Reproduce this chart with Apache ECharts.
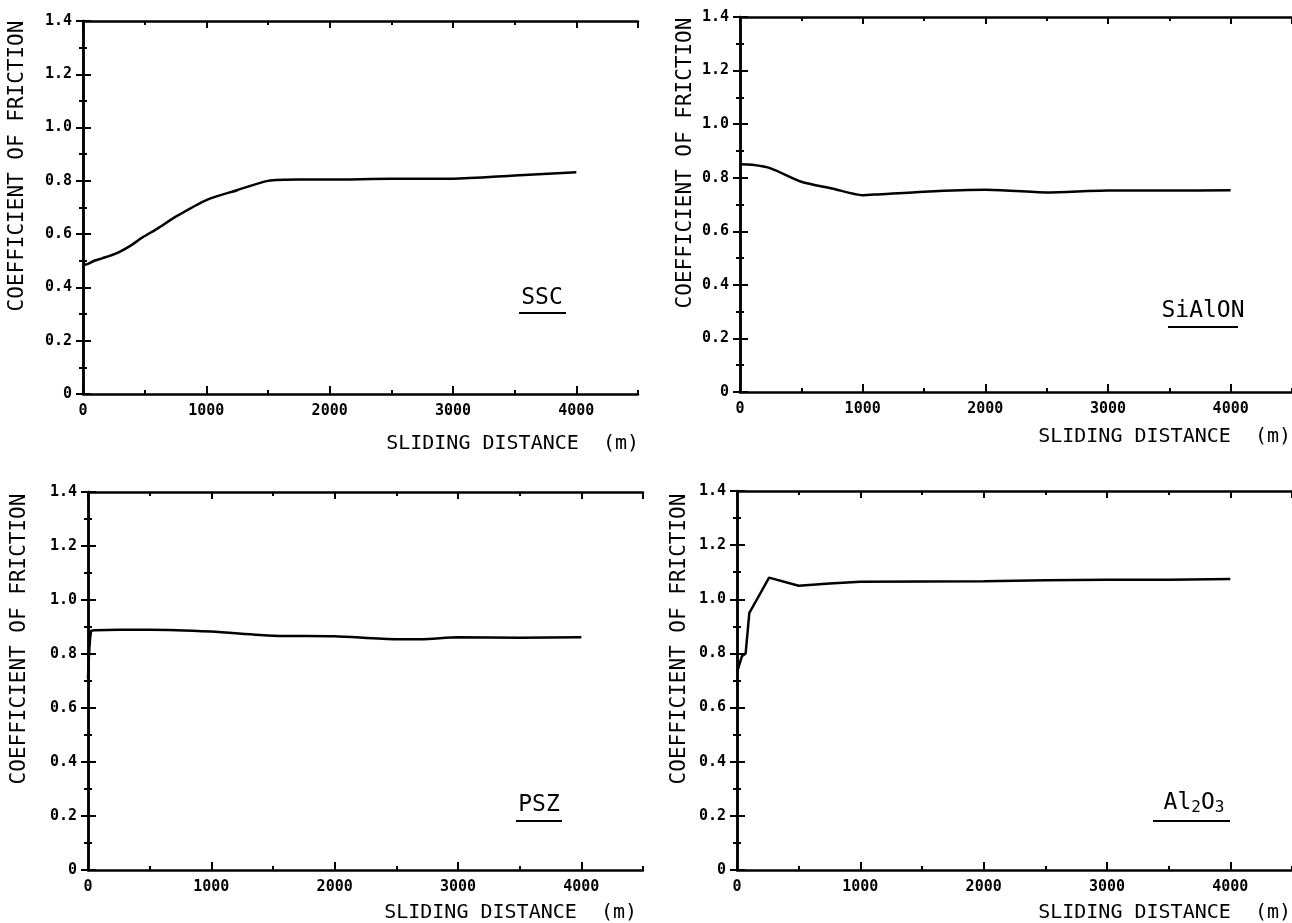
<!DOCTYPE html>
<html>
<head>
<meta charset="utf-8">
<title>Coefficient of friction vs sliding distance</title>
<script src="https://cdn.jsdelivr.net/npm/echarts@6/dist/echarts.min.js"></script>
<style>
  html, body { margin: 0; padding: 0; background: #fff; }
  #chart { width: 1292px; height: 923px; }
</style>
</head>
<body>
<div id="chart"></div>
<script>
// Sliding distance (m) and coefficient of friction for each ceramic
const sscDist   = [0, 15, 50, 90, 160, 280, 380, 490, 600, 750, 1000, 1250, 1500, 1750, 2000, 2500, 3000, 3500, 4000];
const sscCof    = [0.51, 0.485, 0.49, 0.50, 0.51, 0.53, 0.555, 0.59, 0.62, 0.665, 0.728, 0.765, 0.80, 0.805, 0.805, 0.808, 0.808, 0.82, 0.832];

const sialonDist = [0, 100, 250, 500, 750, 1000, 1100, 1500, 2000, 2500, 3000, 3500, 4000];
const sialonCof  = [0.85, 0.848, 0.835, 0.785, 0.76, 0.735, 0.737, 0.748, 0.755, 0.745, 0.752, 0.752, 0.753];

const pszDist = [0, 25, 60, 250, 500, 1000, 1500, 2000, 2500, 2700, 3000, 3500, 4000];
const pszCof  = [0.71, 0.885, 0.888, 0.89, 0.89, 0.883, 0.868, 0.866, 0.855, 0.855, 0.862, 0.86, 0.862];

const aluminaDist = [0, 40, 70, 100, 150, 260, 500, 750, 1000, 1500, 2000, 2500, 3000, 3500, 4000];
const aluminaCof  = [0.73, 0.79, 0.80, 0.95, 0.99, 1.08, 1.05, 1.058, 1.065, 1.066, 1.067, 1.07, 1.072, 1.072, 1.075];

const panelNames = ['SSC', 'SiAlON', 'PSZ', 'Al2O3'];
// rich-text versions of the sample names (subscripts for alumina)
const panelTags = ['SSC', 'SiAlON', 'PSZ', 'Al{sub|2}O{sub|3}'];
const xTitle = 'SLIDING DISTANCE  (m)';
const yTitle = 'COEFFICIENT OF FRICTION';
const xRange = [0, 4500];
const xMajorStep = 1000;
const xMinorStep = 500;
const yRange = [0, 1.4];
const yStep = 0.2;

const panels = [
  { dist: sscDist, cof: sscCof },
  { dist: sialonDist, cof: sialonCof },
  { dist: pszDist, cof: pszCof },
  { dist: aluminaDist, cof: aluminaCof }
];

// Plot frames
const grids = [
  { left: 83,  top: 21,  width: 555, height: 373 },
  { left: 740, top: 17,  width: 557, height: 375 },
  { left: 88,  top: 492, width: 555, height: 378 },
  { left: 737, top: 491, width: 557, height: 379 }
];

// Text placement for each frame
const layout = [
  { yName: [18, 166],  xName: [639, 444],  tag: [542, 298],  line: [519, 566, 313] },
  { yName: [686, 163], xName: [1291, 437], tag: [1203, 311], line: [1168, 1238, 327] },
  { yName: [20, 639],  xName: [637, 913],  tag: [539, 805],  line: [516, 562, 821] },
  { yName: [680, 639], xName: [1291, 913], tag: [1194, 803], line: [1153, 1230, 821] }
];

const INK = '#000';
const MONO = '"DejaVu Sans Mono", "Liberation Mono", monospace';
const axisLineStyle = { color: INK, width: 2.5 };
const tickStyle = { color: INK, width: 2 };

const xAxes = [];
const yAxes = [];
const series = [];
const graphic = [];

panels.forEach((p, i) => {
  const base = xAxes.length;
  const common = { type: 'value', gridIndex: i, min: xRange[0], max: xRange[1], splitLine: { show: false } };
  // bottom axis with labels and long ticks at every 1000 m
  xAxes.push(Object.assign({}, common, {
    position: 'bottom', interval: xMajorStep,
    axisLine: { show: true, lineStyle: axisLineStyle },
    axisTick: { show: true, inside: true, length: 8, lineStyle: tickStyle },
    axisLabel: {
      show: true, showMaxLabel: false, margin: 10, color: INK,
      fontFamily: MONO, fontWeight: 'bold', fontSize: 15,
      formatter: v => String(v)
    }
  }));
  // bottom short ticks every 500 m
  xAxes.push(Object.assign({}, common, {
    position: 'bottom', interval: xMinorStep,
    axisLine: { show: false },
    axisTick: { show: true, inside: true, length: 4, lineStyle: tickStyle },
    axisLabel: { show: false }
  }));
  // top frame edge
  xAxes.push(Object.assign({}, common, {
    position: 'top', interval: xMajorStep,
    axisLine: { show: true, lineStyle: axisLineStyle },
    axisTick: { show: true, inside: true, length: 7, lineStyle: tickStyle },
    axisLabel: { show: false }
  }));
  xAxes.push(Object.assign({}, common, {
    position: 'top', interval: xMinorStep,
    axisLine: { show: false },
    axisTick: { show: true, inside: true, length: 4, lineStyle: tickStyle },
    axisLabel: { show: false }
  }));

  const yBase = yAxes.length;
  const yCommon = {
    type: 'value', gridIndex: i, min: yRange[0], max: yRange[1], interval: yStep,
    splitLine: { show: false },
    axisLine: { show: true, lineStyle: axisLineStyle },
    axisTick: { show: true, inside: true, length: 8, lineStyle: tickStyle },
    minorTick: { show: true, splitNumber: 2, length: 4, lineStyle: tickStyle },
    minorSplitLine: { show: false }
  };
  yAxes.push(Object.assign({}, yCommon, {
    position: 'left',
    axisLabel: {
      show: true, margin: 11, color: INK,
      fontFamily: MONO, fontWeight: 'bold', fontSize: 15,
      formatter: v => (v === 0 ? '0' : v.toFixed(1))
    }
  }));
  yAxes.push(Object.assign({}, yCommon, {
    position: 'right',
    axisTick: { show: true, inside: true, length: 7, lineStyle: tickStyle },
    axisLabel: { show: false }
  }));

  series.push({
    type: 'line',
    name: panelNames[i],
    xAxisIndex: base,
    yAxisIndex: yBase,
    data: p.dist.map((d, k) => [d, p.cof[k]]),
    showSymbol: false,
    smooth: i === 3 ? false : 0.25,
    lineStyle: { color: INK, width: 2.5 },
    silent: true,
    animation: false
  });

  const L = layout[i];
  graphic.push({
    type: 'text', x: L.yName[0], y: L.yName[1], rotation: Math.PI / 2,
    style: {
      text: yTitle, fill: INK, font: '21px ' + MONO,
      align: 'center', verticalAlign: 'middle',
      textAlign: 'center', textVerticalAlign: 'middle'
    }
  });
  graphic.push({
    type: 'text', x: L.xName[0], y: L.xName[1],
    style: {
      text: xTitle, fill: INK, font: '20px ' + MONO,
      align: 'right', verticalAlign: 'middle',
      textAlign: 'right', textVerticalAlign: 'middle'
    }
  });
  graphic.push({
    type: 'text', x: L.tag[0], y: L.tag[1],
    style: {
      text: panelTags[i], fill: INK, font: '23px ' + MONO,
      align: 'center', verticalAlign: 'middle',
      textAlign: 'center', textVerticalAlign: 'middle',
      rich: {
        sub: { fontSize: 16, fontFamily: MONO, fill: INK, padding: [10, 0, 0, 0] }
      }
    }
  });
  graphic.push({
    type: 'line',
    shape: { x1: L.line[0], y1: L.line[2], x2: L.line[1], y2: L.line[2] },
    style: { stroke: INK, lineWidth: 2 }
  });
});

const chart = echarts.init(document.getElementById('chart'), null, { renderer: 'canvas' });
chart.setOption({
  animation: false,
  backgroundColor: '#ffffff',
  grid: grids.map(g => Object.assign({ containLabel: false }, g)),
  xAxis: xAxes,
  yAxis: yAxes,
  series: series,
  graphic: graphic
});
</script>
</body>
</html>
